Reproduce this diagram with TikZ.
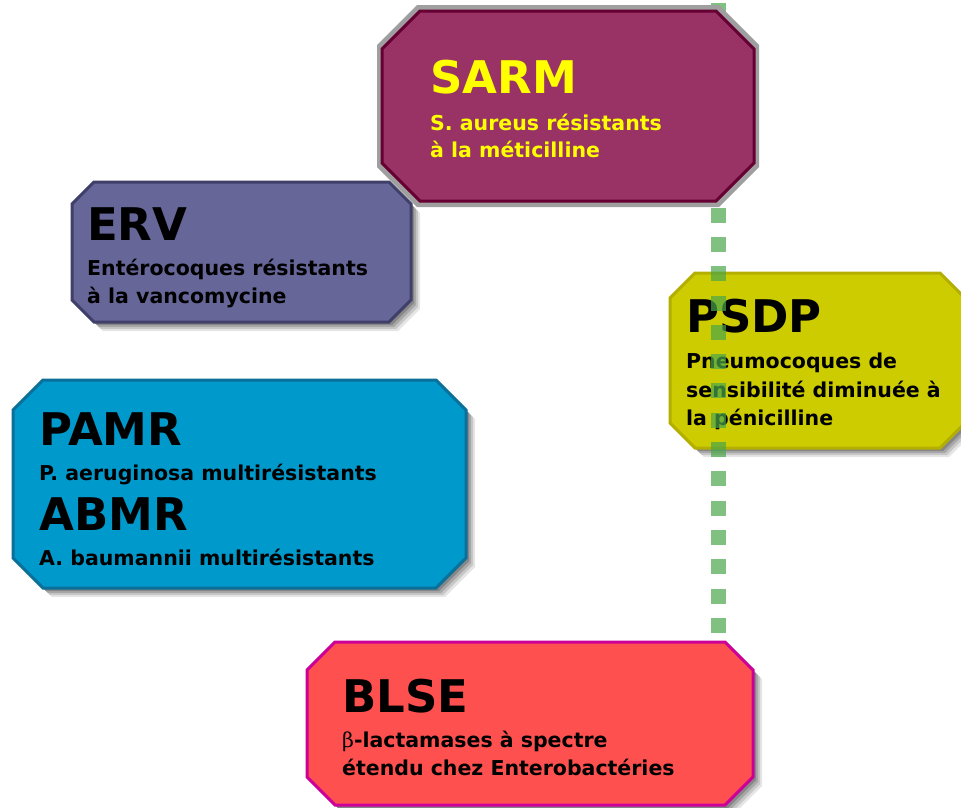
\documentclass[tikz,border=0pt]{standalone}
\usepackage{fontspec}
\setmainfont{DejaVu Sans}
\newfontfamily\greekserif{DejaVu Serif}
\definecolor{sarmfill}{HTML}{993366}
\definecolor{sarmline}{HTML}{660033}
\definecolor{sarmtext}{HTML}{FFFF00}
\definecolor{ervfill}{HTML}{666699}
\definecolor{ervline}{HTML}{3F3F6A}
\definecolor{pamrfill}{HTML}{0099CC}
\definecolor{pamrline}{HTML}{0A6F99}
\definecolor{psdpfill}{HTML}{CCCC00}
\definecolor{psdpline}{HTML}{B3AE00}
\definecolor{blsefill}{HTML}{FF5050}
\definecolor{blseline}{HTML}{CC0099}
\definecolor{dotgreen}{HTML}{4AA54A}
\newcommand\octpath[5]{({#1+#5},#2) -- ({#3-#5},#2) -- (#3,{#2+#5}) -- (#3,{#4-#5}) -- ({#3-#5},#4) -- ({#1+#5},#4) -- (#1,{#4-#5}) -- (#1,{#2+#5}) -- cycle}
\newcommand\softshadow[5]{\foreach \d/\o in {9/0.10,7/0.13,5/0.16,3/0.2}{\fill[black,opacity=\o,shift={(\d,\d)}] \octpath{#1}{#2}{#3}{#4}{#5};}}
\tikzset{
  boxline/.style={line width=3pt, line join=miter},
  ttl/.style={font=\bfseries\fontsize{45}{45}\selectfont, anchor=base west, inner sep=0pt},
  sub/.style={font=\bfseries\fontsize{20.5}{20.5}\selectfont, anchor=base west, inner sep=0pt},
  dotline/.style={draw=dotgreen, line width=15pt, opacity=0.7, dash pattern=on 15pt off 14.3pt, line cap=butt}
}
\begin{document}
\begin{tikzpicture}[x=1pt,y=-1pt]
\useasboundingbox (0,0) rectangle (961,807);
% PSDP
\softshadow{670}{273}{965}{448}{25}
\filldraw[boxline, fill=psdpfill, draw=psdpline] \octpath{670}{273}{965}{448}{25};
\node[ttl] (psdpT) at (686,332) {PSDP};
\node[sub] (psdpA) at (686,368) {Pneumocoques de};
\node[sub] (psdpB) at (686,397) {sensibilité diminuée à};
\node[sub] (psdpC) at (686,425) {la pénicilline};
% dotted line
\coordinate (ltop) at (718,2.5);
\coordinate (lbot) at (718,633);
\draw[dotline] (ltop) -- (lbot);
% SARM
\fill[gray!75] \octpath{377}{5}{759}{207}{40};
\filldraw[boxline, fill=sarmfill, draw=sarmline] \octpath{382}{11}{754}{201}{38};
\node[ttl, text=sarmtext] (sarmT) at (430,93) {SARM};
\node[sub, text=sarmtext] (sarmA) at (430,130) {S. aureus résistants};
\node[sub, text=sarmtext] (sarmB) at (430,157) {à la méticilline};
% ERV
\softshadow{72}{182}{411}{322}{22}
\filldraw[boxline, fill=ervfill, draw=ervline] \octpath{72}{182}{411}{322}{22};
\node[ttl] (ervT) at (87,240) {ERV};
\node[sub] (ervA) at (87,275) {Entérocoques résistants};
\node[sub] (ervB) at (87,303) {à la vancomycine};
% PAMR / ABMR
\softshadow{13}{380}{466}{588}{30}
\filldraw[boxline, fill=pamrfill, draw=pamrline] \octpath{13}{380}{466}{588}{30};
\node[ttl] (pamrT) at (39,445) {PAMR};
\node[sub] (pamrA) at (39,480) {P. aeruginosa multirésistants};
\node[ttl] (abmrT) at (39,530) {ABMR};
\node[sub] (abmrA) at (39,565) {A. baumannii multirésistants};
% BLSE
\softshadow{307}{642}{753}{805}{28}
\filldraw[boxline, fill=blsefill, draw=blseline] \octpath{307}{642}{753}{805}{28};
\node[ttl] (blseT) at (342,712) {BLSE};
\node[sub] (blseA) at (342,747) {{\greekserif\mdseries β}-lactamases à spectre};
\node[sub] (blseB) at (342,775) {étendu chez Enterobactéries};
\end{tikzpicture}
\end{document}
